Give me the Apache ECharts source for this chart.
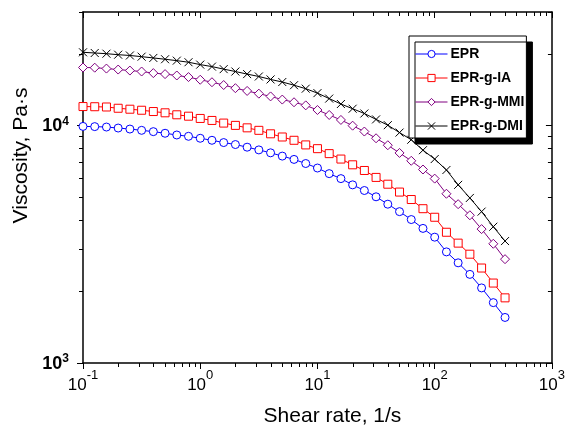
<!DOCTYPE html>
<html><head><meta charset="utf-8">
<script src="https://cdn.jsdelivr.net/npm/echarts@6/dist/echarts.min.js"></script>
<style>html,body{margin:0;padding:0;background:#fff}#c{width:568px;height:432px}</style>
</head><body><div id="c"></div>
<script>
// Shear rate (1/s)
const shearRate = [0.1, 0.1259, 0.1585, 0.1995, 0.2512, 0.3162, 0.3981, 0.5012, 0.631, 0.7943,
  1, 1.259, 1.585, 1.995, 2.512, 3.162, 3.981, 5.012, 6.31, 7.943,
  10, 12.59, 15.85, 19.95, 25.12, 31.62, 39.81, 50.12, 63.1, 79.43,
  100, 125.9, 158.5, 199.5, 251.2, 316.2, 398.1];
// Viscosity (Pa·s)
const epr = [9900, 9880, 9840, 9745, 9650, 9530, 9410, 9265, 9110, 8995,
  8825, 8655, 8465, 8305, 8095, 7885, 7665, 7425, 7190, 6910,
  6615, 6265, 5970, 5620, 5320, 5005, 4660, 4335, 4015, 3685,
  3385, 2935, 2640, 2360, 2070, 1795, 1555];
const eprIA = [12000, 11980, 11950, 11805, 11695, 11580, 11435, 11295, 11080, 10930,
  10695, 10490, 10225, 10000, 9765, 9530, 9215, 8935, 8655, 8275,
  7980, 7605, 7215, 6825, 6460, 6040, 5655, 5240, 4875, 4460,
  4105, 3550, 3195, 2870, 2510, 2170, 1880];
const eprMMI = [17520, 17490, 17340, 17175, 17010, 16850, 16595, 16435, 16215, 15970,
  15560, 15190, 14785, 14340, 13960, 13600, 13240, 12840, 12510, 12140,
  11605, 11060, 10540, 9970, 9420, 8825, 8250, 7655, 7095, 6520,
  5970, 5155, 4660, 4185, 3660, 3175, 2735];
const eprDMI = [20300, 20165, 20030, 19835, 19685, 19460, 19220, 18980, 18725, 18440,
  18020, 17675, 17245, 16850, 16435, 16060, 15605, 15220, 14755, 14270,
  13670, 12965, 12300, 11750, 11220, 10595, 10020, 9325, 8700, 7865,
  7215, 6490, 5620, 4950, 4335, 3745, 3260];
const seriesNames = ['EPR', 'EPR-g-IA', 'EPR-g-MMI', 'EPR-g-DMI'];

const xMajorTicks = [0.1, 1, 10, 100, 1000];
const xMinorTicks = [0.2, 0.3, 0.4, 0.5, 0.6, 0.7, 0.8, 0.9, 2, 3, 4, 5, 6, 7, 8, 9,
  20, 30, 40, 50, 60, 70, 80, 90, 200, 300, 400, 500, 600, 700, 800, 900];
const yMajorTicks = [1000, 10000];
const yMinorTicks = [2000, 3000, 4000, 5000, 6000, 7000, 8000, 9000, 20000, 30000];

const FONT = "'Liberation Sans', Arial, Helvetica, sans-serif";
const pair = ys => shearRate.map((x, i) => [x, ys[i]]);
const expLabel = v => {
  const e = Math.log10(v);
  if (Math.abs(e - Math.round(e)) > 1e-6) return '';
  return '{b|10}{s|' + Math.round(e) + '}';
};
const AL = { color: '#000', width: 1.5 };
const TL = { color: '#000', width: 1 };

function xAx(pos, minor) {
  const main = pos === 'bottom' && !minor;
  return {
    type: 'log', logBase: 10, min: 0.1, max: 1000, position: pos, gridIndex: 0,
    axisLine: { show: !minor, onZero: false, lineStyle: AL },
    axisTick: { show: true, inside: pos === 'top', length: minor ? 4 : 6, lineStyle: TL,
      customValues: minor ? xMinorTicks : xMajorTicks },
    minorTick: { show: false },
    splitLine: { show: false },
    axisLabel: main ? {
      customValues: xMajorTicks, margin: 6, formatter: expLabel,
      rich: {
        b: { fontFamily: FONT, fontSize: 17, color: '#000', lineHeight: 25, verticalAlign: 'bottom' },
        s: { fontFamily: FONT, fontSize: 13, color: '#000', lineHeight: 13, verticalAlign: 'top' }
      }
    } : { show: false },
    name: main ? 'Shear rate, 1/s' : '',
    nameLocation: 'middle', nameGap: 43,
    nameTextStyle: { fontFamily: FONT, fontSize: 21, color: '#000', padding: [0, 0, 0, 30] }
  };
}
function yAx(pos, minor) {
  const main = pos === 'left' && !minor;
  return {
    type: 'log', logBase: 10, min: 1000, max: 30000, position: pos, gridIndex: 0,
    axisLine: { show: !minor, onZero: false, lineStyle: AL },
    axisTick: { show: true, inside: pos === 'right', length: minor ? 4 : 6, lineStyle: TL,
      customValues: minor ? yMinorTicks : yMajorTicks },
    minorTick: { show: false },
    splitLine: { show: false },
    axisLabel: main ? {
      customValues: yMajorTicks, margin: 14, formatter: expLabel,
      rich: {
        b: { fontFamily: FONT, fontSize: 18, fontWeight: 'bold', color: '#000', lineHeight: 20, verticalAlign: 'bottom' },
        s: { fontFamily: FONT, fontSize: 12, fontWeight: 'bold', color: '#000', lineHeight: 12, verticalAlign: 'top' }
      }
    } : { show: false },
    name: main ? 'Viscosity, Pa·s' : '',
    nameLocation: 'middle', nameGap: 51,
    nameTextStyle: { fontFamily: FONT, fontSize: 21, color: '#000', padding: [0, 0, 0, 64] }
  };
}

const crossPath = 'path://M0,0L10,10M10,0L0,10';
const styles = [
  { color: '#0000ff', symbol: 'circle', size: 8 },
  { color: '#ff0000', symbol: 'rect', size: 8 },
  { color: '#800080', symbol: 'diamond', size: 9 },
  { color: '#000000', symbol: crossPath, size: 8 }
];
const dataSets = [epr, eprIA, eprMMI, eprDMI];

const series = dataSets.map((d, i) => ({
  name: seriesNames[i], type: 'line', xAxisIndex: 0, yAxisIndex: 0,
  data: pair(d), symbol: styles[i].symbol, symbolSize: styles[i].size, symbolKeepAspect: true,
  showAllSymbol: true, smooth: false,
  lineStyle: { color: styles[i].color, width: 1 },
  itemStyle: { color: i === 3 ? '#000' : '#fff', borderColor: styles[i].color, borderWidth: 1 },
  emphasis: { disabled: true }
}));

const chart = echarts.init(document.getElementById('c'), null, { renderer: 'canvas' });
chart.setOption({
  animation: false,
  backgroundColor: '#fff',
  grid: { left: 83, right: 16, top: 12, bottom: 66, containLabel: false },
  xAxis: [xAx('bottom', false), xAx('bottom', true), xAx('top', false), xAx('top', true)],
  yAxis: [yAx('left', false), yAx('left', true), yAx('right', false), yAx('right', true)],
  legend: {
    data: seriesNames, orient: 'vertical', left: 409, top: 36,
    itemWidth: 32, itemHeight: 9, itemGap: 10, padding: [11, 2, 5, 6],
    backgroundColor: '#fff', borderColor: '#000', borderWidth: 1, borderRadius: 0,
    shadowColor: '#000', shadowBlur: 0, shadowOffsetX: 6, shadowOffsetY: 6,
    lineStyle: { width: 1 },
    itemStyle: { borderWidth: 1 },
    textStyle: { fontFamily: FONT, fontSize: 14, fontWeight: 'bold', color: '#000', padding: [0, 0, 0, -2] },
    selectedMode: false
  },
  series: series
});
</script></body></html>
